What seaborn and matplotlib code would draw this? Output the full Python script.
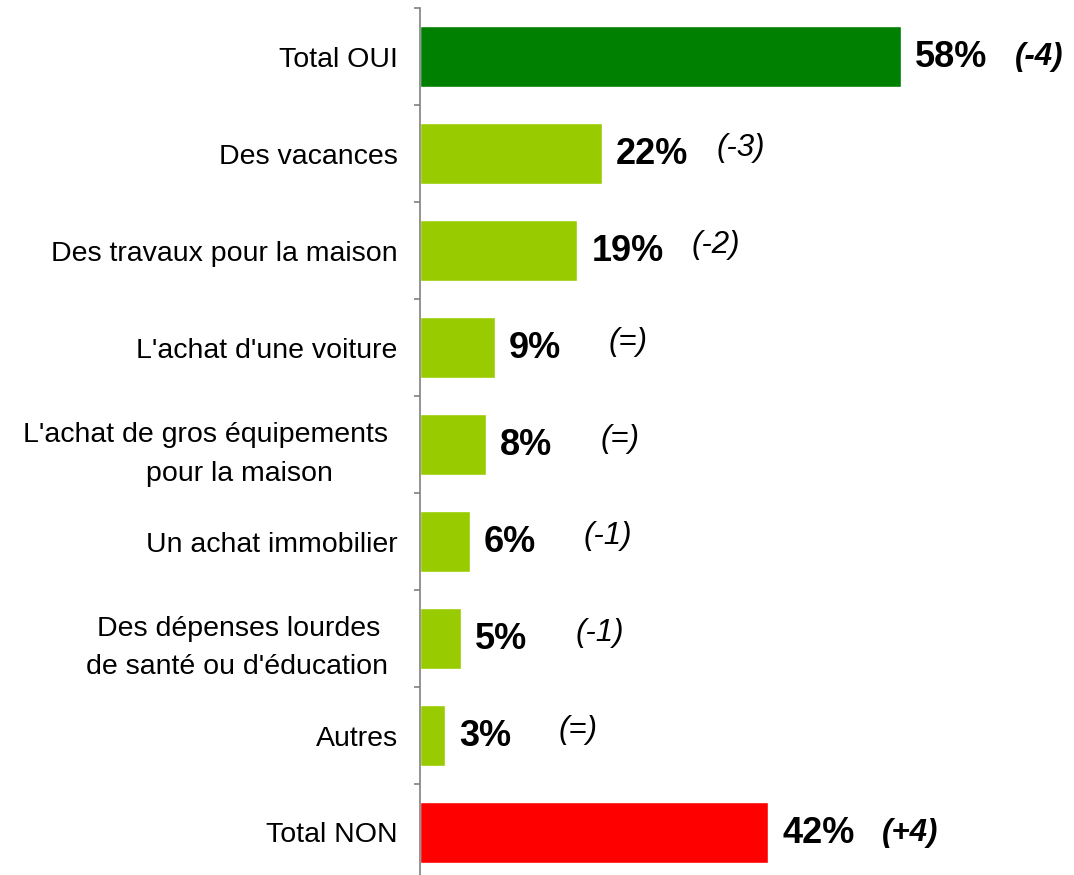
import matplotlib
matplotlib.use('Agg')
import matplotlib.pyplot as plt
import matplotlib.transforms as mtransforms
import numpy as np
import seaborn as sns

categories = [
    'Total OUI',
    'Des vacances',
    'Des travaux pour la maison',
    "L'achat d'une voiture",
    "L'achat de gros équipements\npour la maison       ",
    'Un achat immobilier',
    'Des dépenses lourdes \nde santé ou d\'éducation',
    'Autres',
    'Total NON',
]
values = [58, 22, 19, 9, 8, 6, 5, 3, 42]
changes = ['(-4)', '(-3)', '(-2)', '(=)', '(=)', '(-1)', '(-1)', '(=)', '(+4)']
colors = ['#008000', '#99CC00', '#99CC00', '#99CC00', '#99CC00',
          '#99CC00', '#99CC00', '#99CC00', '#FF0000']
is_total = [True, False, False, False, False, False, False, False, True]

sns.set_style('white')
plt.rcParams['font.family'] = ['Liberation Sans', 'DejaVu Sans']
plt.rcParams['text.color'] = 'black'

fig = plt.figure(figsize=(10.74, 8.75), dpi=100)
ax = fig.add_axes([420 / 1074, -6 / 875, 654 / 1074, 873 / 875])

sns.barplot(x=values, y=categories, hue=categories, palette=colors,
            legend=False, width=0.63, saturation=1, orient='h', ax=ax)

ax.set_xlim(0, 78.9)
ax.set_ylim(8.5, -0.5)
ax.set_xlabel('')
ax.set_ylabel('')
ax.set_xticks([])

for side in ['top', 'right', 'bottom']:
    ax.spines[side].set_visible(False)
ax.spines['left'].set_color('#808080')
ax.spines['left'].set_linewidth(1.2)

ax.set_yticks(np.arange(-0.5, len(categories), 1), minor=True)
ax.tick_params(axis='y', which='minor', length=4, width=1.2, color='#808080', left=True)
ax.tick_params(axis='y', which='major', length=0, pad=16, labelsize=20.5, labelcolor='black')

# the two-line labels sit a bit left of the others
shift = mtransforms.ScaledTranslation(-10 / 100, 0, fig.dpi_scale_trans)
for i, lab in enumerate(ax.get_yticklabels()):
    if '\n' in lab.get_text():
        lab.set_multialignment('right')
        lab.set_linespacing(1.65)
        lab.set_transform(lab.get_transform() + shift)

for i, (v, c) in enumerate(zip(values, changes)):
    ax.annotate(f'{v}%', xy=(v, i), xytext=(10, -1), textcoords='offset points',
                ha='left', va='center', fontsize=26, fontweight='bold', color='black')
    dy = 0 if is_total[i] else 4
    ax.annotate(c, xy=(v, i), xytext=(82, dy), textcoords='offset points',
                ha='left', va='center', fontsize=22.5, fontstyle='italic',
                fontweight='bold' if is_total[i] else 'normal', color='black')

fig.savefig('out.png', dpi=100)
